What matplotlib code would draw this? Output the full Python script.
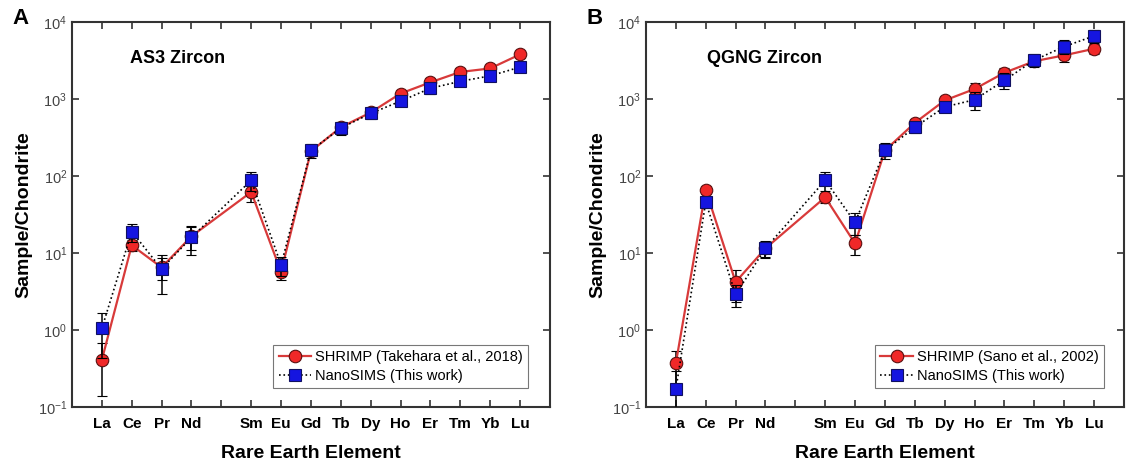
import numpy as np
import matplotlib

matplotlib.use('Agg')
import matplotlib.pyplot as plt
from matplotlib.ticker import FixedLocator, NullLocator, LogFormatterMathtext

plt.rcParams['font.family'] = ['Liberation Sans', 'DejaVu Sans']

# Rare earth elements (Pm slot is left empty)
ELEMENTS = ['La', 'Ce', 'Pr', 'Nd', '', 'Sm', 'Eu', 'Gd', 'Tb', 'Dy', 'Ho', 'Er', 'Tm', 'Yb', 'Lu']
DATA_ELEMENTS = ['La', 'Ce', 'Pr', 'Nd', 'Sm', 'Eu', 'Gd', 'Tb', 'Dy', 'Ho', 'Er', 'Tm', 'Yb', 'Lu']

# Panel A - AS3 zircon
as3_shrimp = [0.41, 12.6, 6.5, 16.5, 62, 5.7, 210, 430, 670, 1180, 1650, 2250, 2500, 3800]
as3_shrimp_err = [0.27, 2.0, 2.0, 5.5, 16, 1.2, 30, 60, 90, 150, 200, 250, 250, 400]
as3_nanosims = [1.05, 19, 6.2, 16, 88, 7.0, 215, 420, 650, 940, 1380, 1700, 2000, 2600]
as3_nanosims_err = [0.62, 5, 3.3, 6.5, 24, 2.0, 45, 80, 100, 130, 200, 220, 200, 350]

# Panel B - QGNG zircon
qgng_shrimp = [0.37, 66, 4.2, 11.5, 53, 13.3, 215, 490, 960, 1350, 2200, 3100, 3700, 4500]
qgng_shrimp_err = [0.17, 8, 1.9, 2.5, 8, 4.0, 30, 60, 120, 250, 300, 400, 700, 700]
qgng_nanosims = [0.17, 46, 2.9, 11.5, 88, 25, 215, 430, 790, 980, 1750, 3200, 4800, 6600]
qgng_nanosims_err = [0.12, 8, 0.9, 3, 25, 8, 50, 70, 120, 260, 400, 600, 1000, 1200]

RED = '#f02828'
BLUE = '#1515e0'
AXCOL = '#333333'


def draw_panel(ax, shrimp, shrimp_err, nano, nano_err, title, shrimp_label, letter, title_x, leg_x):
    xpos = [ELEMENTS.index(e) + 1 for e in DATA_ELEMENTS]

    red = ax.errorbar(xpos, shrimp, yerr=shrimp_err, color='#d83a3a', lw=1.6, ls='-',
                      marker='o', ms=9, mfc=RED, mec='#5a1010', mew=0.8,
                      ecolor='black', elinewidth=1.1, capsize=3.5, capthick=1.1,
                      zorder=3)
    blue = ax.errorbar(xpos, nano, yerr=nano_err, color='black', lw=1.2, ls=':',
                       marker='s', ms=8, mfc=BLUE, mec='#101060', mew=0.8,
                       ecolor='black', elinewidth=1.1, capsize=3.5, capthick=1.1,
                       zorder=4)

    ax.set_yscale('log')
    ax.set_ylim(0.1, 1e4)
    ax.set_xlim(0, 16)
    ax.yaxis.set_major_locator(FixedLocator([0.1, 1, 10, 100, 1000, 10000]))
    ax.yaxis.set_minor_locator(NullLocator())
    ax.yaxis.set_major_formatter(LogFormatterMathtext())
    ax.set_xticks(range(1, 16))
    ax.set_xticklabels(ELEMENTS, fontweight='bold', fontsize=11)

    ax.tick_params(axis='both', direction='in', top=True, right=True, length=5,
                   width=1.2, color=AXCOL)
    ax.tick_params(axis='y', labelsize=10.5, labelcolor='#444444')
    ax.tick_params(axis='x', pad=7)
    for s in ax.spines.values():
        s.set_linewidth(1.5)
        s.set_color(AXCOL)

    ax.set_xlabel('Rare Earth Element', fontweight='bold', fontsize=14, labelpad=10)
    ax.set_ylabel('Sample/Chondrite', fontweight='bold', fontsize=14, labelpad=4)
    ax.text(title_x, 0.905, title, transform=ax.transAxes,
            ha='center', va='center', fontweight='bold', fontsize=13)
    ax.text(-0.108, 1.01, letter, transform=ax.transAxes, ha='center', va='center',
            fontweight='bold', fontsize=16)

    leg = ax.legend([red[0], blue[0]], [shrimp_label, 'NanoSIMS (This work)'],
                    loc='lower right', bbox_to_anchor=(leg_x, 0.05), borderaxespad=0,
                    fontsize=10.5, frameon=True, fancybox=False,
                    edgecolor='#555555', handlelength=2.2, handletextpad=0.3,
                    borderpad=0.35, labelspacing=0.3)
    leg.get_frame().set_linewidth(0.8)


fig = plt.figure(figsize=(11.27, 4.74), dpi=100)
ax1 = fig.add_axes([0.0639, 0.1414, 0.424, 0.812])
ax2 = fig.add_axes([0.5732, 0.1414, 0.424, 0.812])

draw_panel(ax1, as3_shrimp, as3_shrimp_err, as3_nanosims, as3_nanosims_err,
           'AS3 Zircon', 'SHRIMP (Takehara et al., 2018)', 'A', 0.22, 0.954)
draw_panel(ax2, qgng_shrimp, qgng_shrimp_err, qgng_nanosims, qgng_nanosims_err,
           'QGNG Zircon', 'SHRIMP (Sano et al., 2002)', 'B', 0.247, 0.958)

fig.savefig('out.png', dpi=100)
